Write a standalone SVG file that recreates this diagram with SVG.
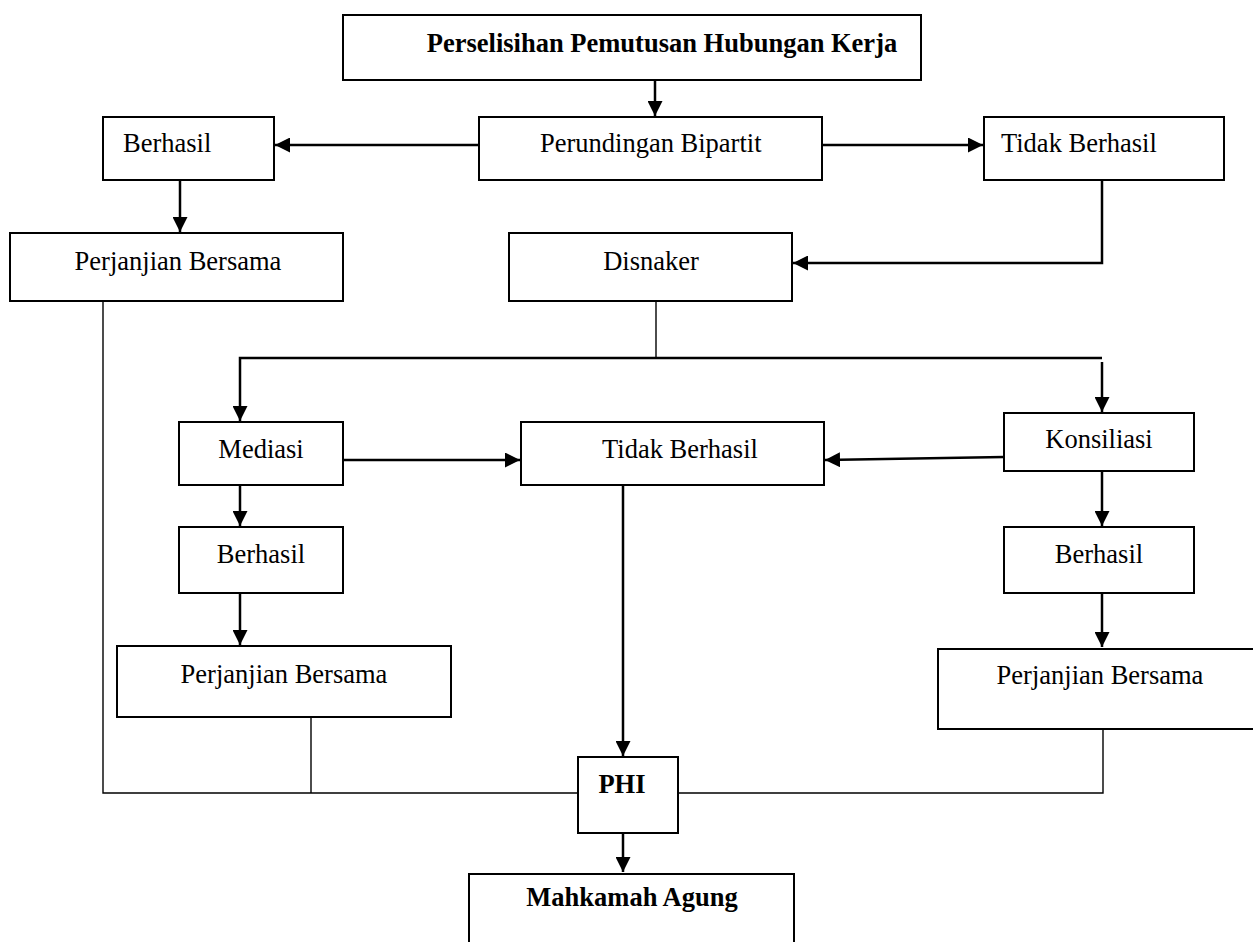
<svg xmlns="http://www.w3.org/2000/svg" width="1253" height="942" viewBox="0 0 1253 942">
<defs>
<style>
.box{fill:#fff;stroke:#000;stroke-width:2}
.t{font-family:"Liberation Serif","Times New Roman",serif;font-size:26.5px;fill:#000}
.m{text-anchor:middle}
.b{font-weight:bold}
.c{fill:none;stroke:#000;stroke-width:2.5}
.thin{fill:none;stroke:#000;stroke-width:1.4}
</style>
<marker id="ah" markerWidth="15" markerHeight="15" refX="15" refY="7.5" orient="auto" markerUnits="userSpaceOnUse">
<path d="M0,0 L15,7.5 L0,15 Z" fill="#000"/>
</marker>
</defs>
<rect width="1253" height="942" fill="#fff"/>
<g id="connectors">
<path class="c" d="M655,80 V116" marker-end="url(#ah)"/>
<path class="c" d="M479,145 H275" marker-end="url(#ah)"/>
<path class="c" d="M822,145 H983" marker-end="url(#ah)"/>
<path class="c" d="M180,180 V232" marker-end="url(#ah)"/>
<path class="c" d="M1102,180 V263 H793" marker-end="url(#ah)"/>
<path class="thin" d="M656,301 V357"/>
<path class="c" d="M1102,358 H240 V421" marker-end="url(#ah)"/>
<path class="c" d="M1102,362 V412" marker-end="url(#ah)"/>
<path class="c" d="M343,460 H520" marker-end="url(#ah)"/>
<path class="c" d="M1004,457 L825,460" marker-end="url(#ah)"/>
<path class="c" d="M240,485 V526" marker-end="url(#ah)"/>
<path class="c" d="M240,593 V645" marker-end="url(#ah)"/>
<path class="c" d="M1102,471 V526" marker-end="url(#ah)"/>
<path class="c" d="M1102,593 V647" marker-end="url(#ah)"/>
<path class="c" d="M623,485 V756" marker-end="url(#ah)"/>
<path class="c" d="M623,833 V872" marker-end="url(#ah)"/>
<path class="thin" d="M103,301 V793 H578"/>
<path class="thin" d="M311,717 V793"/>
<path class="thin" d="M1103,728 V793 H678"/>
</g>
<g id="n-title"><rect class="box" x="343" y="15" width="578" height="65"/><text class="t m b" x="662" y="52">Perselisihan Pemutusan Hubungan Kerja</text></g>
<g id="n-bipartit"><rect class="box" x="479" y="117" width="343" height="63"/><text class="t" x="540" y="152">Perundingan Bipartit</text></g>
<g id="n-berhasil1"><rect class="box" x="103" y="117" width="171" height="63"/><text class="t" x="123" y="152">Berhasil</text></g>
<g id="n-tidak1"><rect class="box" x="984" y="117" width="240" height="63"/><text class="t" x="1001" y="152">Tidak Berhasil</text></g>
<g id="n-pb1"><rect class="box" x="10" y="233" width="333" height="68"/><text class="t m" x="178" y="270">Perjanjian Bersama</text></g>
<g id="n-disnaker"><rect class="box" x="509" y="233" width="283" height="68"/><text class="t m" x="651" y="270">Disnaker</text></g>
<g id="n-mediasi"><rect class="box" x="179" y="422" width="164" height="63"/><text class="t m" x="261" y="458">Mediasi</text></g>
<g id="n-tidak2"><rect class="box" x="521" y="422" width="303" height="63"/><text class="t m" x="680" y="458">Tidak Berhasil</text></g>
<g id="n-konsiliasi"><rect class="box" x="1004" y="413" width="190" height="58"/><text class="t m" x="1099" y="448">Konsiliasi</text></g>
<g id="n-berhasil2"><rect class="box" x="179" y="527" width="164" height="66"/><text class="t m" x="261" y="563">Berhasil</text></g>
<g id="n-berhasil3"><rect class="box" x="1004" y="527" width="190" height="66"/><text class="t m" x="1099" y="563">Berhasil</text></g>
<g id="n-pb2"><rect class="box" x="117" y="646" width="334" height="71"/><text class="t m" x="284" y="683">Perjanjian Bersama</text></g>
<g id="n-pb3"><rect class="box" x="938" y="649" width="320" height="80"/><text class="t m" x="1100" y="684">Perjanjian Bersama</text></g>
<g id="n-phi"><rect class="box" x="578" y="757" width="100" height="76"/><text class="t m b" x="622" y="793">PHI</text></g>
<g id="n-ma"><rect class="box" x="469" y="874" width="325" height="80"/><text class="t m b" x="632" y="906">Mahkamah Agung</text></g>
</svg>
